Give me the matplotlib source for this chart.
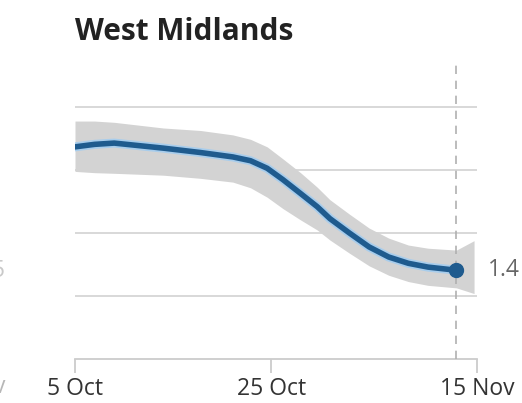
import numpy as np
import matplotlib.pyplot as plt

# days after 5 Oct
days = [0, 2, 4, 9, 12.8, 16.1, 17.9, 19.6, 21.2, 23, 24.7, 26, 28, 30, 32, 34, 36, 38.9]
mid = [3.37, 3.41, 3.43, 3.35, 3.28, 3.21, 3.15, 3.03, 2.85, 2.63, 2.42, 2.23, 2.00, 1.78, 1.62, 1.52, 1.46, 1.41]

band_days = [0, 2, 4, 9, 12.8, 16.1, 17.9, 19.6, 21.2, 23, 24.7, 26, 28, 30, 32, 34, 36, 38.9, 40.7]
upper = [3.78, 3.78, 3.76, 3.67, 3.63, 3.56, 3.49, 3.37, 3.18, 2.96, 2.73, 2.53, 2.30, 2.08, 1.92, 1.81, 1.76, 1.73, 1.88]
lower = [2.98, 2.96, 2.95, 2.92, 2.87, 2.81, 2.72, 2.57, 2.39, 2.21, 2.05, 1.89, 1.68, 1.48, 1.33, 1.23, 1.17, 1.13, 1.04]

tick_days = [0, 20, 41]
tick_labels = ['5 Oct', '25 Oct', '15 Nov']
grid_vals = [1, 2, 3, 4]
latest_label = '1.4'

plt.rcParams['font.family'] = ['Open Sans', 'DejaVu Sans']

fig = plt.figure(figsize=(5.22, 4.03), dpi=100)
ax = fig.add_axes([75 / 522, 1 - 359 / 403, 402 / 522, 299 / 403])
ax.set_xlim(0, 41)
ax.set_ylim(0, 4.75)

for g in grid_vals:
    ax.axhline(g, color='#d6d6d6', lw=1.3, zorder=1)

ax.fill_between(band_days, lower, upper, color='#d3d3d3', lw=0, zorder=2)
ax.axvline(days[-1], color='#b0b0b0', lw=1.2, ls=(0, (5, 4)), ymax=0.99, zorder=3)
ax.plot(days, mid, color='#a8cdec', lw=6.5, solid_capstyle='round', solid_joinstyle='round', zorder=4)
ax.plot(days, mid, color='#1f5b8e', lw=4, solid_capstyle='round', solid_joinstyle='round', zorder=5)
ax.plot(days[-1], mid[-1], 'o', color='#1f5b8e', ms=10, zorder=6)

for s in ['top', 'right', 'left']:
    ax.spines[s].set_visible(False)
ax.spines['bottom'].set_color('#cccccc')
ax.spines['bottom'].set_linewidth(1.3)
ax.set_yticks([])
ax.set_xticks(tick_days)
ax.set_xticklabels(tick_labels, fontsize=16.5, color='#333333')
ax.tick_params(axis='x', length=10, width=1.3, color='#cccccc', pad=3)

ax.text(42.1, mid[-1], latest_label, fontsize=16.5, color='#666666', va='center', ha='left')
fig.text(75 / 522, 1 - 32 / 403, 'West Midlands', fontsize=21.5, fontweight='bold',
         color='#222222', va='center', ha='left')

# slivers of the neighbouring panel, cut off at the left
fig.text(6 / 522, 1 - 271 / 403, '1.5', fontsize=16.5, color='#666666', va='center', ha='right',
         alpha=0.35)
fig.text(6 / 522, 1 - 387 / 403, 'Nov', fontsize=16.5, color='#333333', va='center', ha='right',
         alpha=0.35)

fig.savefig('out.png', dpi=100)
